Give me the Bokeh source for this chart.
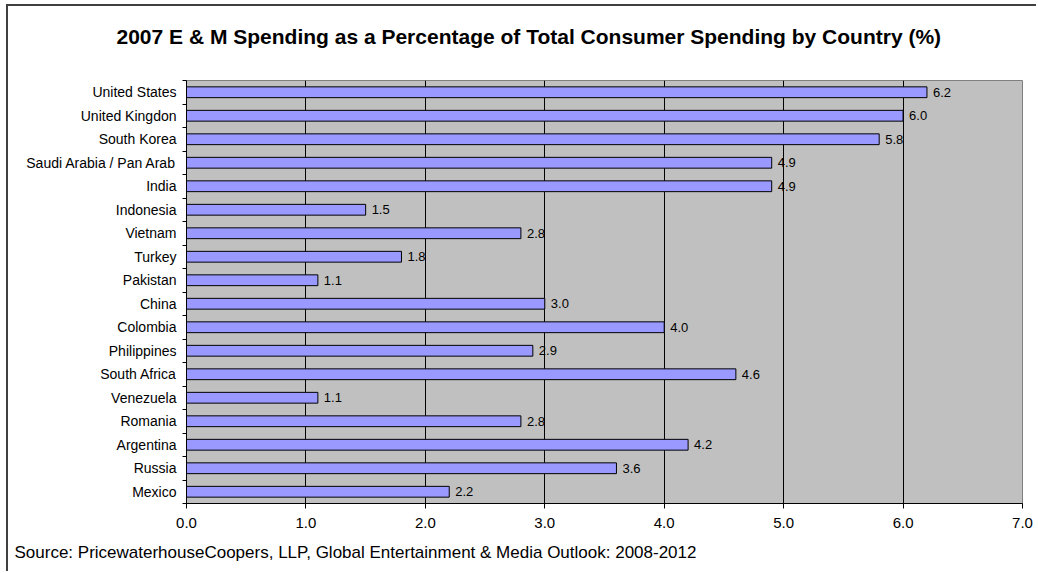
from bokeh.plotting import figure
from bokeh.models import Range1d, FixedTicker, Title, ColumnDataSource
from bokeh.embed import file_html
from bokeh.resources import INLINE
from bokeh.core.properties import value

# ---- data (top to bottom as shown) ----
countries = ["United States", "United Kingdon", "South Korea", "Saudi Arabia / Pan Arab",
             "India", "Indonesia", "Vietnam", "Turkey", "Pakistan", "China", "Colombia",
             "Philippines", "South Africa", "Venezuela", "Romania", "Argentina", "Russia", "Mexico"]
spending = [6.2, 6.0, 5.8, 4.9, 4.9, 1.5, 2.8, 1.8, 1.1, 3.0, 4.0, 2.9, 4.6, 1.1, 2.8, 4.2, 3.6, 2.2]
x_ticks = [0, 1, 2, 3, 4, 5, 6, 7]
title_text = "2007 E & M Spending as a Percentage of Total Consumer Spending by Country (%)"
source_text = "Source: PricewaterhouseCoopers, LLP, Global Entertainment & Media Outlook: 2008-2012"

n = len(countries)
centers = [n - i - 0.5 for i in range(n)]
labels = ["%.1f" % v for v in spending]
src = ColumnDataSource(dict(y=centers, v=spending, lab=labels, name=countries))

FONT = "Liberation Sans"
OFFX, OFFY = 8, 6   # space taken by the outer frame lines

p = figure(width=1038 - OFFX, height=573 - OFFY,
           output_backend="svg", toolbar_location=None,
           x_range=Range1d(0, 7), y_range=Range1d(0, n),
           min_border_left=186 - OFFX, min_border_right=16,
           min_border_top=80 - OFFY, min_border_bottom=70)
p.styles = {"position": "absolute", "left": "%dpx" % OFFX, "top": "%dpx" % OFFY,
            "box-shadow": "-2px -2px 0px 0px #404040"}
p.background_fill_color = "#C0C0C0"
p.border_fill_color = "white"
p.outline_line_color = "#808080"
p.outline_line_width = 1

p.hbar(y="y", right="v", left=0, height=0.46, source=src,
       fill_color="#9999FF", line_color="black", line_width=1)
p.text(x="v", y="y", text="lab", source=src, x_offset=6, text_baseline="middle",
       text_align="left", text_font=value(FONT), text_font_size="13px", text_color="black")

# x axis
xa = p.xaxis[0]
xa.ticker = FixedTicker(ticks=x_ticks)
xa.major_label_overrides = {t: "%.1f" % t for t in x_ticks}
xa.major_tick_out = 5
xa.major_tick_in = 0
xa.minor_tick_out = 0
xa.minor_tick_in = 0
xa.axis_line_color = "black"
xa.major_tick_line_color = "black"
xa.major_label_text_font = FONT
xa.major_label_text_font_size = "15px"
xa.major_label_text_color = "black"
xa.major_label_standoff = 9

# y axis
ya = p.yaxis[0]
ya.ticker = FixedTicker(ticks=centers, minor_ticks=list(range(n + 1)))
ya.major_label_overrides = {c: nm for c, nm in zip(centers, countries)}
ya.major_tick_out = 0
ya.major_tick_in = 0
ya.minor_tick_out = 4
ya.minor_tick_in = 0
ya.minor_tick_line_color = "black"
ya.axis_line_color = "black"
ya.major_label_text_font = FONT
ya.major_label_text_font_size = "14px"
ya.major_label_text_color = "black"
ya.major_label_standoff = 6

p.xgrid.ticker = FixedTicker(ticks=[1, 2, 3, 4, 5, 6])
p.xgrid.grid_line_color = "black"
p.xgrid.grid_line_width = 1
p.ygrid.grid_line_color = None

p.title.text = title_text + "\n"
p.title.align = "left"
p.title.offset = -70
p.title.vertical_align = "top"
p.title.text_font = FONT
p.title.text_font_size = "21px"
p.title.text_font_style = "bold"
p.title.text_color = "black"
p.title.standoff = 16

p.add_layout(Title(text=source_text, align="left", offset=-172, text_font=FONT,
                   text_font_size="17px", text_font_style="normal", text_color="black",
                   standoff=20), "below")

open("out.html", "w").write(file_html(p, INLINE))
